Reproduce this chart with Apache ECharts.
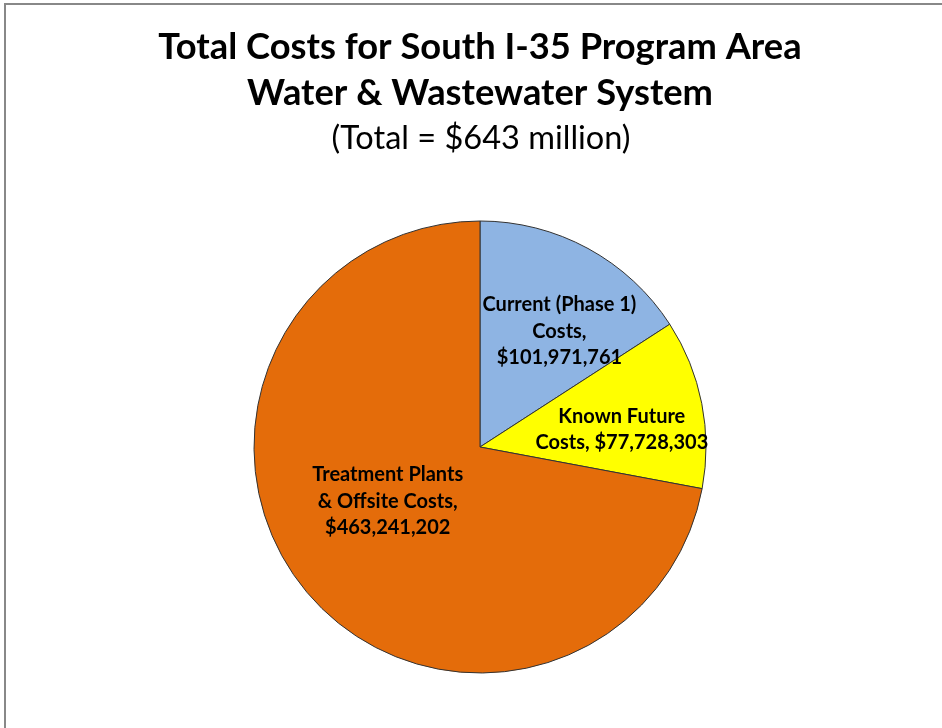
<!DOCTYPE html>
<html><head><meta charset="utf-8">
<script src="https://cdn.jsdelivr.net/npm/echarts@6/dist/echarts.min.js"></script>
<style>html,body{margin:0;padding:0;background:#fff}#c{width:942px;height:728px}</style>
</head><body><div id="c"></div>
<script>
const titleLines = ['Total Costs for South I-35 Program Area', 'Water & Wastewater System'];
const subtitle = '(Total = $643 million)';
const categories = ['Current (Phase 1) Costs', 'Known Future Costs', 'Treatment Plants & Offsite Costs'];
const labelTexts = ['Current (Phase 1)\nCosts,\n$101,971,761', 'Known Future\nCosts, $77,728,303', 'Treatment Plants\n& Offsite Costs,\n$463,241,202'];
const values = [101971761, 77728303, 463241202];
const colors = ['#8EB4E3', '#FFFF00', '#E46C0A'];
const labelOffsets = [[24, -14], [28, 5], [-3, -20]];

const chart = echarts.init(document.getElementById('c'));
chart.setOption({
  animation: false,
  backgroundColor: '#fff',
  graphic: [
    {type: 'rect', shape: {x: 5, y: 4, width: 960, height: 760}, style: {fill: 'none', stroke: '#888', lineWidth: 2}}
  ],
  title: [
    {text: titleLines.join('\n'), left: 475, textAlign: 'center', top: 19, textStyle: {fontFamily: 'Lato', fontWeight: 'bold', fontSize: 36.3, lineHeight: 46, color: '#000'}},
    {text: subtitle, left: 476, textAlign: 'center', top: 117, textStyle: {fontFamily: 'Lato', fontWeight: 'normal', fontSize: 32.5, color: '#000'}}
  ],
  series: [{
    type: 'pie',
    center: [480, 447],
    radius: [0, 226],
    startAngle: 90,
    clockwise: true,
    itemStyle: {borderColor: '#333', borderWidth: 1},
    label: {position: 'inside', fontFamily: 'Lato', fontWeight: 'bold', fontSize: 20, lineHeight: 26.5, color: '#000', align: 'center'},
    labelLine: {show: false},
    emphasis: {disabled: true},
    data: categories.map((c, i) => ({
      name: c, value: values[i],
      itemStyle: {color: colors[i]},
      label: {formatter: labelTexts[i], offset: labelOffsets[i]}
    }))
  }]
});
</script></body></html>
